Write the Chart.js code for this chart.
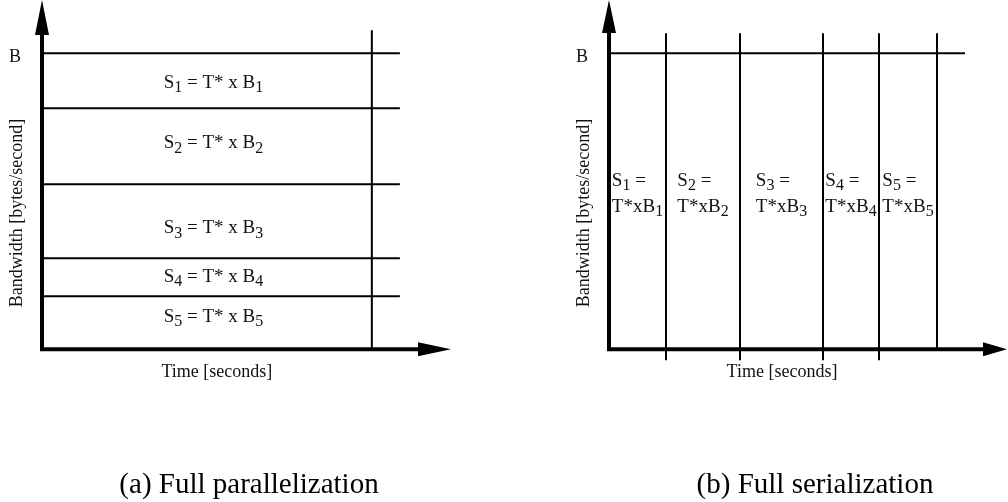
<!DOCTYPE html>
<html>
<head>
<meta charset="utf-8">
<script src="https://cdn.jsdelivr.net/npm/chart.js@4.4.0/dist/chart.umd.min.js"></script>
<style>
  html, body { margin: 0; padding: 0; background: #fff; }
  .panel { position: absolute; top: 0; width: 504px; height: 502px; }
</style>
</head>
<body>
<div class="panel" style="left:0"><canvas id="parallel" width="504" height="502"></canvas></div>
<div class="panel" style="left:504px"><canvas id="serial" width="504" height="502"></canvas></div>
<script>
// streams 1..5, bandwidth share of B (top band first) and serial durations
const streams = ['1', '2', '3', '4', '5'];
const totalBandwidth = 100;                            // B
const parallelBandwidth = [18.6, 25.7, 25.0, 12.8, 17.9];
const tStar = 10;                                      // T*
const serialDuration = [5.7, 7.4, 8.3, 5.6, 5.8];
const captions = ['(a) Full parallelization', '(b) Full serialization'];
const axisTitles = ['Time [seconds]', 'Bandwidth [bytes/second]'];

const FONT = '"Liberation Serif", "Times New Roman", serif';
const MAIN = '19px ' + FONT, SUB = '16px ' + FONT;

function seg(x0, y0, x1, y1) {
  return {
    data: [{ x: x0, y: y0 }, { x: x1, y: y1 }],
    borderColor: '#000', borderWidth: 2, pointRadius: 0, tension: 0
  };
}

function richWidth(ctx, parts) {
  let w = 0;
  parts.forEach(([t, s]) => { ctx.font = s ? SUB : MAIN; w += ctx.measureText(t).width; });
  return w;
}

// draw text with subscripts: parts = [[text, isSub], ...]
function drawRich(ctx, parts, x, y, align) {
  let cx = align === 'center' ? x - richWidth(ctx, parts) / 2 : x;
  ctx.textAlign = 'left';
  ctx.textBaseline = 'middle';
  parts.forEach(([t, s]) => {
    ctx.font = s ? SUB : MAIN;
    ctx.fillText(t, cx, s ? y + 5 : y);
    cx += ctx.measureText(t).width;
  });
}

function overlay(cfg) {
  return {
    id: 'overlay',
    beforeDraw(chart) {
      const ctx = chart.ctx;
      ctx.save();
      ctx.fillStyle = '#fff';
      ctx.fillRect(0, 0, chart.width, chart.height);
      ctx.restore();
    },
    afterDatasetsDraw(chart) {
      const ctx = chart.ctx;
      const xs = chart.scales.x, ys = chart.scales.y;
      const ax = xs.getPixelForValue(0), ay = ys.getPixelForValue(0);
      ctx.save();
      ctx.strokeStyle = '#000';
      ctx.fillStyle = '#000';
      ctx.lineWidth = 4;
      ctx.beginPath();
      ctx.moveTo(ax, ys.top + 20);
      ctx.lineTo(ax, ay + 2);
      ctx.moveTo(ax - 2, ay);
      ctx.lineTo(xs.right - 20, ay);
      ctx.stroke();
      // arrowheads
      ctx.beginPath();
      ctx.moveTo(ax, ys.top);
      ctx.lineTo(ax - 7, ys.top + cfg.arrowY);
      ctx.lineTo(ax + 7, ys.top + cfg.arrowY);
      ctx.closePath();
      ctx.fill();
      ctx.beginPath();
      ctx.moveTo(xs.right, ay);
      ctx.lineTo(xs.right - cfg.arrowX, ay - 7);
      ctx.lineTo(xs.right - cfg.arrowX, ay + 7);
      ctx.closePath();
      ctx.fill();

      ctx.fillStyle = '#111';
      ctx.font = '18px ' + FONT;
      ctx.textAlign = 'center';
      ctx.textBaseline = 'middle';
      ctx.fillText('B', ax - 27, ys.getPixelForValue(totalBandwidth) + 4);
      ctx.fillText(axisTitles[0], xs.getPixelForValue(cfg.timeTitleAt), ay + 23);
      ctx.save();
      ctx.translate(ax - 25, ys.getPixelForValue(46));
      ctx.rotate(-Math.PI / 2);
      ctx.fillText(axisTitles[1], 0, 0);
      ctx.restore();

      cfg.labels(ctx, xs, ys);

      ctx.font = '29px ' + FONT;
      ctx.textAlign = 'center';
      ctx.textBaseline = 'middle';
      ctx.fillStyle = '#000';
      ctx.fillText(cfg.caption, cfg.captionX, 485);
      ctx.restore();
    }
  };
}

function baseOptions(xMax, padding) {
  return {
    responsive: false,
    animation: false,
    events: [],
    layout: { padding },
    plugins: { legend: { display: false }, tooltip: { enabled: false } },
    scales: {
      x: { type: 'linear', display: false, min: 0, max: xMax },
      y: { type: 'linear', display: false, min: -5, max: 118 }
    }
  };
}

// ---- (a) full parallelization ----
const parallelEnd = 10.85;
const bandTops = [];
let level = totalBandwidth;
parallelBandwidth.forEach(b => { bandTops.push(level); level -= b; });

const parallelSets = bandTops.map(v => seg(0, v, parallelEnd, v));
parallelSets.push(seg(tStar, 0, tStar, 107.8));

const labelNudge = [2, -3, 7, 0, -6];   // px, label placement inside bands

new Chart(document.getElementById('parallel'), {
  type: 'line',
  data: { datasets: parallelSets },
  options: baseOptions(12.4, { left: 42, right: 53, top: 0, bottom: 138 }),
  plugins: [overlay({
    arrowY: 35, arrowX: 33, timeTitleAt: 5.3, caption: captions[0], captionX: 249,
    labels(ctx, xs, ys) {
      streams.forEach((s, i) => {
        const mid = bandTops[i] - parallelBandwidth[i] / 2;
        drawRich(ctx, [['S', 0], [s, 1], [' = T* x B', 0], [s, 1]],
          xs.getPixelForValue(5.2), ys.getPixelForValue(mid) + labelNudge[i], 'center');
      });
    }
  })]
});

// ---- (b) full serialization ----
const serialEnd = 35.6;
const serialEdges = [];
let t = 0;
serialDuration.forEach(d => { t += d; serialEdges.push(t); });

const serialSets = [seg(0, totalBandwidth, serialEnd, totalBandwidth)];
serialEdges.forEach((e, i) => serialSets.push(seg(e, i < 4 ? -3.7 : 0, e, 106.8)));

new Chart(document.getElementById('serial'), {
  type: 'line',
  data: { datasets: serialSets },
  options: baseOptions(39.8, { left: 105, right: 1, top: 0, bottom: 138 }),
  plugins: [overlay({
    arrowY: 33, arrowX: 24, timeTitleAt: 17.3, caption: captions[1], captionX: 311,
    labels(ctx, xs, ys) {
      streams.forEach((s, i) => {
        const start = i === 0 ? 0 : serialEdges[i - 1];
        const cx = xs.getPixelForValue((start + serialEdges[i]) / 2);
        const line1 = [['S', 0], [s, 1], [' =', 0]];
        const line2 = [['T*xB', 0], [s, 1]];
        const w = Math.max(richWidth(ctx, line1), richWidth(ctx, line2));
        const cy = ys.getPixelForValue(totalBandwidth / 2);
        drawRich(ctx, line1, cx - w / 2, cy - 20, 'left');
        drawRich(ctx, line2, cx - w / 2, cy + 6, 'left');
      });
    }
  })]
});
</script>
</body>
</html>
